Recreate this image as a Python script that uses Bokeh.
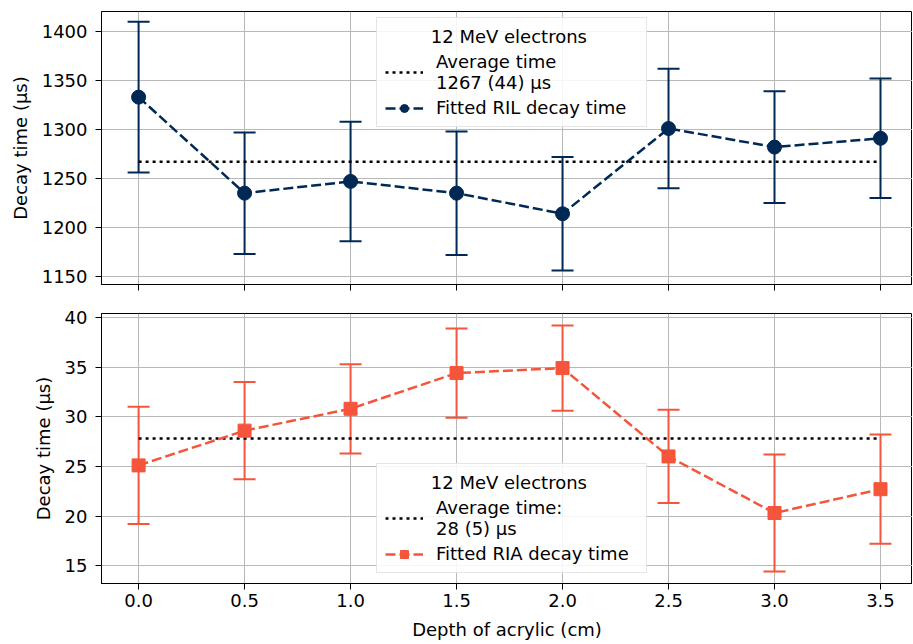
from bokeh.plotting import figure
from bokeh.models import (ColumnDataSource, Range1d, Whisker, TeeHead, Legend,
                          LegendItem, FixedTicker, PrintfTickFormatter)
from bokeh.layouts import column
from bokeh.embed import file_html
from bokeh.resources import INLINE

# ---- data ----
depth = [0.0, 0.5, 1.0, 1.5, 2.0, 2.5, 3.0, 3.5]
ril_time = [1333, 1235, 1247, 1235, 1214, 1301, 1282, 1291]
ril_err = [77, 62, 61, 63, 58, 61, 57, 61]
ril_avg = 1267
ria_time = [25.1, 28.6, 30.8, 34.4, 34.9, 26.0, 20.3, 22.7]
ria_err = [5.9, 4.9, 4.5, 4.5, 4.3, 4.7, 5.9, 5.5]
ria_avg = 27.8
x_ticks = [0.0, 0.5, 1.0, 1.5, 2.0, 2.5, 3.0, 3.5]
ril_yticks = [1150, 1200, 1250, 1300, 1350, 1400]
ria_yticks = [15, 20, 25, 30, 35, 40]
legend_title = "12 MeV electrons"

NAVY = "#002855"
RED = "#f4553b"
FONT = "DejaVu Sans"
FS = "18px"


def style(p, yticks):
    p.xaxis.ticker = FixedTicker(ticks=x_ticks)
    p.xaxis.formatter = PrintfTickFormatter(format="%.1f")
    p.yaxis.ticker = FixedTicker(ticks=yticks)
    for ax in (p.xaxis[0], p.yaxis[0]):
        ax.major_label_text_font = FONT
        ax.major_label_text_font_size = FS
        ax.major_label_text_color = "black"
        ax.axis_label_text_font = FONT
        ax.axis_label_text_font_size = FS
        ax.axis_label_text_font_style = "normal"
        ax.axis_label_text_color = "black"
        ax.axis_line_color = "black"
        ax.axis_line_width = 1
        ax.major_tick_line_color = "black"
        ax.major_tick_in = 0
        ax.major_tick_out = 6
        ax.minor_tick_line_color = None
    p.xaxis.major_label_standoff = 4
    p.yaxis.major_label_standoff = 8
    p.yaxis.axis_label_standoff = 8
    p.xaxis.axis_label_standoff = 9
    p.grid.grid_line_color = "#b8b8b8"
    p.grid.grid_line_width = 1
    p.outline_line_color = "black"
    p.outline_line_width = 1
    p.background_fill_color = "white"
    p.border_fill_color = "white"


def panel(p, times, errs, avg, color, marker, msize, avg_label, fit_label,
          legend_loc):
    upper = [t + e for t, e in zip(times, errs)]
    lower = [t - e for t, e in zip(times, errs)]
    src = ColumnDataSource(dict(x=depth, y=times, upper=upper, lower=lower))
    avg_r = p.line([depth[0], depth[-1]], [avg, avg], line_color="black",
                   line_width=2.5, line_dash="3 4")
    fit_line = p.line("x", "y", source=src, line_color=color, line_width=2.5,
                      line_dash="10 4")
    w = Whisker(base="x", upper="upper", lower="lower", source=src,
                line_color=color, line_width=2,
                upper_head=TeeHead(size=22, line_color=color, line_width=2),
                lower_head=TeeHead(size=22, line_color=color, line_width=2))
    p.add_layout(w)
    fit_pts = p.scatter("x", "y", source=src, marker=marker, size=msize,
                        fill_color=color, line_color=color)
    leg = Legend(items=[
        LegendItem(label=avg_label, renderers=[avg_r]),
        LegendItem(label=fit_label, renderers=[fit_line, fit_pts]),
    ], location=legend_loc)
    leg.title = "\u00a0" * 8 + legend_title + "\u00a0" * 9
    leg.title_text_font = FONT
    leg.title_text_font_size = FS
    leg.title_text_font_style = "normal"
    leg.title_text_color = "black"
    leg.title_standoff = 4
    leg.label_text_font = FONT
    leg.label_text_font_size = FS
    leg.label_text_color = "black"
    leg.glyph_width = 38
    leg.glyph_height = 20
    leg.label_standoff = 13
    leg.spacing = 4
    leg.padding = 8
    leg.margin = 0
    leg.border_line_color = "#cccccc"
    leg.border_line_width = 1
    leg.background_fill_color = "white"
    leg.background_fill_alpha = 0.85
    p.add_layout(leg)


x_range = Range1d(-0.175, 3.651)

top = figure(width=912, height=304, output_backend="svg", toolbar_location=None,
             x_range=x_range, y_range=Range1d(1141.8, 1420.4),
             min_border_left=101, min_border_right=0, min_border_top=11,
             min_border_bottom=20)
style(top, ril_yticks)
top.xaxis.major_label_overrides = {t: "" for t in x_ticks}
top.yaxis.axis_label = "Decay time (µs)"
panel(top, ril_time, ril_err, ril_avg, NAVY, "circle", 14,
      "Average time\n1267 (44) µs", "Fitted RIL decay time", (275, 157))

bot = figure(width=912, height=338, output_backend="svg", toolbar_location=None,
             x_range=x_range, y_range=Range1d(13.2, 40.4),
             min_border_left=101, min_border_right=0, min_border_top=9,
             min_border_bottom=57)
style(bot, ria_yticks)
bot.yaxis.axis_label = "Decay time (µs)"
bot.xaxis.axis_label = "Depth of acrylic (cm)"
panel(bot, ria_time, ria_err, ria_avg, RED, "square", 13,
      "Average time:\n28 (5) µs", "Fitted RIA decay time", (275, 10))

layout = column(top, bot, spacing=0)
open("out.html", "w").write(file_html(layout, INLINE))
